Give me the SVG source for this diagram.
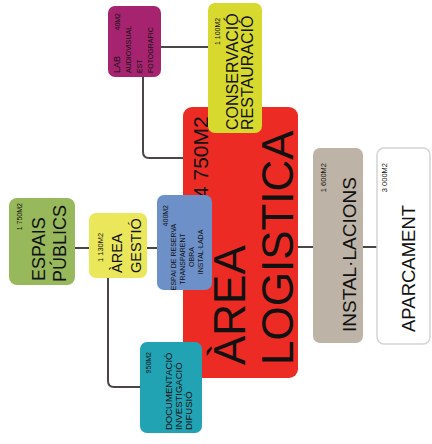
<svg xmlns="http://www.w3.org/2000/svg" width="432" height="444" viewBox="0 0 432 444">
<style>
text{font-family:"Liberation Sans",Arial,sans-serif;fill:#111}
.c{fill:none;stroke:#4a4646;stroke-width:2}
.s{font-size:7px}
.m{text-anchor:middle}
.e{text-anchor:end}
</style>
<rect width="432" height="444" fill="#fff"/>
<g id="connectors">
<path class="c" d="M161 47H208"/>
<path class="c" d="M143 77V152Q143 158 149 158H184"/>
<path class="c" d="M75 248H89"/>
<path class="c" d="M147 248H158"/>
<path class="c" d="M108 278V381Q108 387 114 387H140"/>
<path class="c" d="M298 247H313"/>
<path class="c" d="M363 247H377"/>
</g>
<g id="lab">
<rect x="108" y="6" width="53" height="71" rx="7" fill="#a6246f"/>
<text transform="translate(120,73) rotate(-90)" font-size="9">LAB</text>
<text class="s e" transform="translate(120,13) rotate(-90)">40M2</text>
<text class="s" transform="translate(131,73) rotate(-90)">AUDIOVISUAL</text>
<text class="s" transform="translate(142,73) rotate(-90)">EST</text>
<text class="s" transform="translate(153,73) rotate(-90)">FOTOGRAFIC</text>
</g>
<g id="logistica">
<rect x="183" y="107" width="115" height="271" rx="9" fill="#ec2b25"/>
<text transform="translate(208,198) rotate(-90)" font-size="21">4 750M2</text>
<text transform="translate(245,365) rotate(-90)" font-size="44">ÀREA</text>
<text transform="translate(293,365) rotate(-90)" font-size="44">LOGISTICA</text>
</g>
<g id="conservacio">
<rect x="208" y="3" width="54" height="130" rx="7" fill="#d8d92e"/>
<text class="s" transform="translate(220,45) rotate(-90)">1 100M2</text>
<text transform="translate(238,130) rotate(-90)" font-size="16">CONSERVACIÓ</text>
<text transform="translate(253,130) rotate(-90)" font-size="16">RESTAURACIÓ</text>
</g>
<g id="reserva">
<rect x="157" y="195" width="55" height="95" rx="7" fill="#6d90c9"/>
<text class="s e" transform="translate(168,205) rotate(-90)">400M2</text>
<text class="s m" transform="translate(176,257) rotate(-90)">ESPAI DE RESERVA</text>
<text class="s m" transform="translate(185,259) rotate(-90)">TRANSPARENT</text>
<text class="s m" transform="translate(194,257) rotate(-90)">OBRA</text>
<text class="s m" transform="translate(203,252) rotate(-90)">INSTAL·LADA</text>
</g>
<g id="documentacio">
<rect x="140" y="342" width="62" height="91" rx="7" fill="#21a3b3"/>
<text class="s e" transform="translate(151,352) rotate(-90)">950M2</text>
<text transform="translate(172,430) rotate(-90)" font-size="9.5">DOCUMENTACIÓ</text>
<text transform="translate(182,430) rotate(-90)" font-size="9.5">INVESTIGACIÓ</text>
<text transform="translate(192,430) rotate(-90)" font-size="9.5">DIFUSIÓ</text>
</g>
<g id="gestio">
<rect x="89" y="213" width="58" height="65" rx="7" fill="#ebe75a"/>
<text transform="translate(103,262) rotate(-90)" font-size="7.5">1 130M2</text>
<text transform="translate(122,273) rotate(-90)" font-size="14.5">ÀREA</text>
<text transform="translate(141,273) rotate(-90)" font-size="14.5">GESTIÓ</text>
</g>
<g id="espais">
<rect x="9" y="198" width="66" height="87" rx="8" fill="#98b95b"/>
<text class="s e" transform="translate(22,203) rotate(-90)">1 750M2</text>
<text transform="translate(45,281) rotate(-90)" font-size="18">ESPAIS</text>
<text transform="translate(66,282) rotate(-90)" font-size="18">PÚBLICS</text>
</g>
<g id="installacions">
<rect x="313" y="148" width="50" height="195" rx="7" fill="#bdb3a6"/>
<text class="e" transform="translate(326,163) rotate(-90)" font-size="7.5">1 600M2</text>
<text transform="translate(356,332) rotate(-90)" font-size="19">INSTAL·LACIONS</text>
</g>
<g id="aparcament">
<rect x="377" y="148" width="53" height="196" rx="7" fill="#fff" stroke="#d4d4d4" stroke-width="1.5"/>
<text class="e" transform="translate(387,163) rotate(-90)" font-size="7.5">3 000M2</text>
<text transform="translate(415,332) rotate(-90)" font-size="18.5">APARCAMENT</text>
</g>
</svg>
